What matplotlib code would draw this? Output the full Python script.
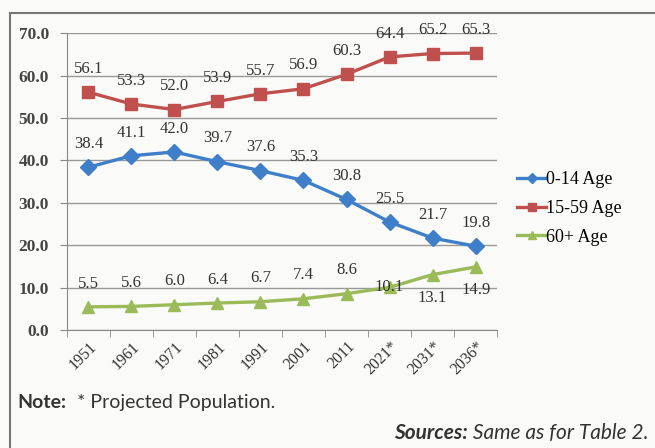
import numpy as np
import matplotlib.pyplot as plt
from matplotlib.patches import Rectangle

# Data
years = ['1951', '1961', '1971', '1981', '1991', '2001', '2011', '2021*', '2031*', '2036*']
age_0_14 = [38.4, 41.1, 42.0, 39.7, 37.6, 35.3, 30.8, 25.5, 21.7, 19.8]
age_15_59 = [56.1, 53.3, 52.0, 53.9, 55.7, 56.9, 60.3, 64.4, 65.2, 65.3]
age_60 = [5.5, 5.6, 6.0, 6.4, 6.7, 7.4, 8.6, 10.1, 13.1, 14.9]

blue = '#3f7fca'
red = '#c0504d'
green = '#9bbb59'
serif = 'Liberation Serif'

fig = plt.figure(figsize=(6.55, 4.48), dpi=100, facecolor='#fafaf8')
ax = fig.add_axes([0.102, 0.263, 0.657, 0.663])
ax.set_facecolor('none')

x = np.arange(len(years))
l1, = ax.plot(x, age_0_14, color=blue, lw=2.4, marker='D', ms=8, label='0-14 Age')
l2, = ax.plot(x, age_15_59, color=red, lw=2.4, marker='s', ms=8.5, label='15-59 Age')
l3, = ax.plot(x, age_60, color=green, lw=2.4, marker='^', ms=9, label='60+ Age')

# data labels
for i, v in enumerate(age_0_14):
    ax.annotate(f'{v:.1f}', (i, v), xytext=(0, 11), textcoords='offset points',
                ha='center', va='bottom', fontsize=12, family=serif, color='#333333')
for i, v in enumerate(age_15_59):
    ax.annotate(f'{v:.1f}', (i, v), xytext=(0, 11), textcoords='offset points',
                ha='center', va='bottom', fontsize=12, family=serif, color='#333333')
for i, v in enumerate(age_60):
    if i < 7:
        off, va = (0, 11), 'bottom'
    elif i == 7:
        off, va = (0, 0), 'center'
    else:
        off, va = (0, -11), 'top'
    ax.annotate(f'{v:.1f}', (i, v), xytext=off, textcoords='offset points',
                ha='center', va=va, fontsize=12, family=serif, color='#333333')

ax.set_xlim(-0.5, len(years) - 0.5)
ax.set_ylim(0, 70)
ax.set_yticks(np.arange(0, 71, 10))
ax.set_yticklabels([f'{t:.1f}' for t in np.arange(0, 71, 10)],
                   family=serif, fontsize=12.5, fontweight='bold', color='#444444')
ax.set_xticks(x)
ax.set_xticklabels(years, rotation=45, ha='right', rotation_mode='anchor',
                   family=serif, fontsize=11.5, color='#333333')
ax.set_xticks(np.arange(-0.5, len(years)), minor=True)
ax.tick_params(axis='x', which='major', length=0, pad=6)
ax.tick_params(axis='x', which='minor', length=5, color='#888888')
ax.tick_params(axis='y', length=5, color='#888888', pad=8)

ax.grid(axis='y', color='#999999', lw=1)
ax.set_axisbelow(True)
for s in ['top', 'right']:
    ax.spines[s].set_visible(False)
ax.spines['left'].set_color('#888888')
ax.spines['bottom'].set_color('#888888')

fig.legend(handles=[l1, l2, l3], loc='center left', bbox_to_anchor=(0.765, 0.535),
           frameon=False, prop={'family': serif, 'size': 13}, handlelength=1.6,
           handletextpad=0.0, labelspacing=0.65, markerscale=0.6)

fig.text(0.026, 0.09, 'Note:', fontsize=14, family='Lato', fontweight='bold', color='#333333')
fig.text(0.118, 0.09, '* Projected Population.', fontsize=14, family='Lato', color='#333333')
t = fig.text(0.99, 0.02, ' Same as for Table 2.', fontsize=15, family='Lato',
             style='italic', ha='right', color='#333333')
fig.canvas.draw()
bb = t.get_window_extent().transformed(fig.transFigure.inverted())
fig.text(bb.x0, 0.02, 'Sources:', fontsize=15, family='Lato', style='italic',
         fontweight='bold', ha='right', color='#333333')

fig.patches.append(Rectangle((0.016, -0.01), 1.0, 0.98, transform=fig.transFigure,
                             fill=False, edgecolor='#777777', lw=1.5))

fig.savefig('out.png', dpi=100, facecolor=fig.get_facecolor())
